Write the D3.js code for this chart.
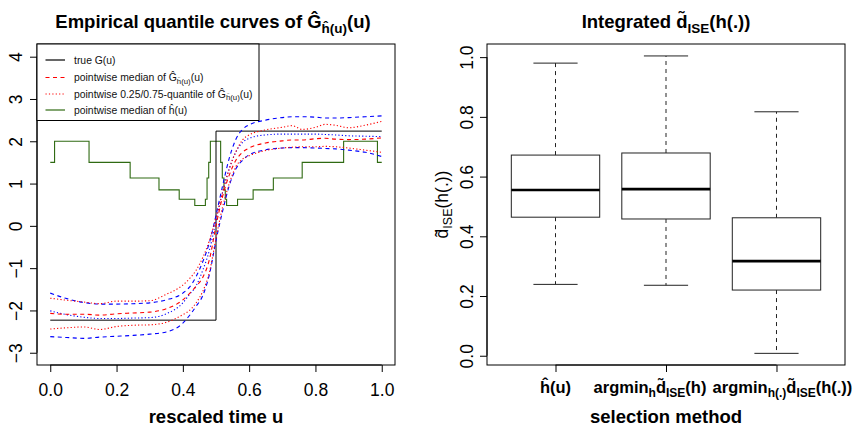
<!DOCTYPE html>
<html>
<head>
<meta charset="utf-8">
<script src="https://cdn.jsdelivr.net/npm/d3@7"></script>
<style>
  body { margin: 0; background: #fff; }
  svg { font-family: "Liberation Sans", Arial, Helvetica, sans-serif; }
</style>
</head>
<body>
<div class="chart"></div>
<script>
// rooster van u-waarden voor de kwantielcurves
var uGrid = [0, 0.05, 0.1, 0.15, 0.2, 0.25, 0.3, 0.35, 0.4, 0.42, 0.44, 0.46, 0.48, 0.5, 0.52, 0.54, 0.56, 0.58, 0.6, 0.65, 0.7, 0.73, 0.76, 0.8, 0.83, 0.86, 0.9, 0.95, 1.0];

// blauwe curves (niet in de legende)
var blueDashHi = [-1.59, -1.72, -1.81, -1.85, -1.85, -1.84, -1.82, -1.75, -1.59, -1.45, -1.2, -0.85, -0.4, 0.25, 0.95, 1.6, 2.05, 2.28, 2.39, 2.5, 2.56, 2.58, 2.58, 2.57, 2.55, 2.55, 2.56, 2.58, 2.6];
var blueDotHi = [-2.01, -2.1, -2.16, -2.19, -2.19, -2.18, -2.17, -2.08, -1.82, -1.62, -1.42, -1.05, -0.58, 0.12, 0.8, 1.35, 1.75, 1.97, 2.07, 2.15, 2.17, 2.17, 2.17, 2.17, 2.16, 2.15, 2.13, 2.12, 2.11];
var blueDashLo = [-2.62, -2.64, -2.66, -2.63, -2.61, -2.59, -2.56, -2.51, -2.3, -2.12, -1.9, -1.65, -1.15, -0.35, 0.35, 0.95, 1.35, 1.55, 1.68, 1.8, 1.84, 1.85, 1.85, 1.84, 1.83, 1.82, 1.79, 1.74, 1.64];

// rode curves: mediaan en 0.25/0.75-kwantielen
var redMedian = [-2.07, -2.09, -2.09, -2.11, -2.08, -2.06, -2.04, -1.96, -1.75, -1.6, -1.43, -1.22, -0.8, 0.0, 0.7, 1.2, 1.55, 1.74, 1.84, 1.96, 2.01, 2.03, 2.03, 2.06, 2.07, 2.05, 2.04, 2.05, 2.08];
var redDotHi = [-1.71, -1.76, -1.8, -1.84, -1.78, -1.78, -1.77, -1.62, -1.4, -1.25, -1.05, -0.75, -0.35, 0.2, 0.8, 1.35, 1.75, 2.03, 2.15, 2.27, 2.33, 2.37, 2.28, 2.33, 2.4, 2.38, 2.32, 2.38, 2.47];
var redDotLo = [-2.44, -2.41, -2.39, -2.45, -2.38, -2.35, -2.34, -2.28, -2.1, -2.0, -1.82, -1.55, -1.1, -0.3, 0.45, 1.0, 1.4, 1.58, 1.66, 1.78, 1.84, 1.86, 1.87, 1.87, 1.88, 1.87, 1.84, 1.79, 1.74];

// ware functie G(u)
var trueU = [0, 0.5, 0.5, 1.0];
var trueG = [-2.23, -2.23, 2.24, 2.24];

// mediaan van de gekozen bandbreedte h(u) (trapfunctie)
var hU = [0, 0.013, 0.117, 0.241, 0.328, 0.389, 0.436, 0.468, 0.473, 0.478, 0.483, 0.514, 0.519, 0.524, 0.528, 0.532, 0.565, 0.612, 0.673, 0.76, 0.885, 0.987, 1.0];
var hV = [1.5, 2.0, 1.5, 1.13, 0.85, 0.63, 0.48, 0.63, 1.13, 1.5, 2.0, 1.5, 1.13, 0.85, 0.63, 0.48, 0.63, 0.85, 1.13, 1.5, 2.0, 1.5, 1.5];

var xTicksL = [0, 0.2, 0.4, 0.6, 0.8, 1.0];
var yTicksL = [-3, -2, -1, 0, 1, 2, 3, 4];

// boxplots rechts
var methods = [1, 2, 3];
var whiskLo = [0.239, 0.236, 0.008];
var q1 = [0.464, 0.458, 0.22];
var medians = [0.555, 0.558, 0.317];
var q3 = [0.672, 0.679, 0.462];
var whiskHi = [0.98, 1.004, 0.817];
var yTicksR = [0, 0.2, 0.4, 0.6, 0.8, 1.0];

var width = 854, height = 429;
var svg = d3.select(".chart").append("svg")
  .attr("width", width)
  .attr("height", height);

var fontTick = 17.5;

// ---------- linker paneel ----------
var xL = d3.scaleLinear().domain([-0.04, 1.04]).range([37, 395]);
var yL = d3.scaleLinear().domain([-3.29, 4.3]).range([365, 44]);

var left = svg.append("g");

var line = d3.line()
  .x(d => xL(d[0]))
  .y(d => yL(d[1]))
  .curve(d3.curveMonotoneX);

function pairs(us, vs) {
  return us.map((u, i) => [u, vs[i]]);
}

// groene trapfunctie
left.append("path")
  .datum(pairs(hU, hV))
  .attr("d", d3.line().x(d => xL(d[0])).y(d => yL(d[1])).curve(d3.curveStepAfter))
  .attr("fill", "none")
  .attr("stroke", "#2f6a12")
  .attr("stroke-width", 1.1);

// ware G(u)
left.append("path")
  .datum(pairs(trueU, trueG))
  .attr("d", d3.line().x(d => xL(d[0])).y(d => yL(d[1])))
  .attr("fill", "none")
  .attr("stroke", "#000")
  .attr("stroke-width", 1);

var curves = [
  { v: blueDashHi, color: "#0000ff", dash: "4,3.5" },
  { v: blueDashLo, color: "#0000ff", dash: "4,3.5" },
  { v: blueDotHi, color: "#0000ff", dash: "1.2,2.2" },
  { v: redDotHi, color: "#ff0000", dash: "1.2,2.2" },
  { v: redDotLo, color: "#ff0000", dash: "1.2,2.2" },
  { v: redMedian, color: "#ff0000", dash: "4,3.5" }
];

left.selectAll("path.curve")
  .data(curves)
  .enter()
  .append("path")
  .attr("class", "curve")
  .attr("d", d => line(pairs(uGrid, d.v)))
  .attr("fill", "none")
  .attr("stroke", d => d.color)
  .attr("stroke-width", 1.1)
  .attr("stroke-dasharray", d => d.dash);

// kader
left.append("rect")
  .attr("x", 37).attr("y", 44)
  .attr("width", 358).attr("height", 321)
  .attr("fill", "none")
  .attr("stroke", "#000");

// x-as
var xAxisL = left.append("g")
  .attr("transform", "translate(0,365)")
  .call(d3.axisBottom(xL).tickValues(xTicksL).tickFormat(d3.format(".1f")).tickSizeInner(7).tickSizeOuter(0).tickPadding(4));
xAxisL.select(".domain").attr("d", "M" + xL(0) + ",0H" + xL(1));
xAxisL.selectAll("text").attr("font-size", fontTick).attr("font-family", null).attr("fill", "#000").attr("dy", null).attr("y", 31);

// y-as
var yAxisL = left.append("g")
  .attr("transform", "translate(37,0)")
  .call(d3.axisLeft(yL).tickValues(yTicksL).tickSizeInner(7).tickSizeOuter(0));
yAxisL.select(".domain").attr("d", "M0," + yL(-3) + "V" + yL(4));
yAxisL.selectAll("text")
  .text(d => d < 0 ? "\u2212" + Math.abs(d) : d)
  .attr("font-size", fontTick).attr("font-family", null).attr("fill", "#000")
  .attr("x", null).attr("dy", null)
  .attr("text-anchor", "middle")
  .attr("transform", "translate(-15,0) rotate(-90)");

// titel
var titleL = left.append("text")
  .attr("x", 213).attr("y", 28)
  .attr("text-anchor", "middle")
  .attr("font-size", 18.5)
  .attr("font-weight", "bold");
titleL.append("tspan").text("Empirical quantile curves of \u011C");
titleL.append("tspan").attr("font-size", 13.5).attr("dy", 5).text("\u0125(u)");
titleL.append("tspan").attr("dy", -5).text("(u)");

left.append("text")
  .attr("x", 216).attr("y", 423)
  .attr("text-anchor", "middle")
  .attr("font-size", 18.5)
  .attr("font-weight", "bold")
  .text("rescaled time u");

// legende
var legend = left.append("g");
legend.append("rect")
  .attr("x", 37).attr("y", 44)
  .attr("width", 222).attr("height", 76.5)
  .attr("fill", "#fff")
  .attr("stroke", "#000");

var legendItems = [
  { y: 60, color: "#000000", dash: "none", parts: [["true G(u)", 0]] },
  { y: 77.5, color: "#ff0000", dash: "4,3.5", parts: [["pointwise median of \u011C", 0], ["\u0125(u)", 1], ["(u)", 0]] },
  { y: 94, color: "#ff0000", dash: "1.2,2.2", parts: [["pointwise 0.25/0.75-quantile of \u011C", 0], ["\u0125(u)", 1], ["(u)", 0]] },
  { y: 110, color: "#2f6a12", dash: "none", parts: [["pointwise median of \u0125(u)", 0]] }
];

legendItems.forEach(function (item) {
  legend.append("line")
    .attr("x1", 45.5).attr("x2", 65)
    .attr("y1", item.y).attr("y2", item.y)
    .style("stroke", item.color)
    .style("stroke-width", 1.2)
    .style("stroke-dasharray", item.dash);
  var t = legend.append("text")
    .attr("x", 74).attr("y", item.y + 3.5)
    .attr("font-size", 10.4)
    .attr("fill", "#111");
  var shift = 0;
  item.parts.forEach(function (p) {
    var dy = p[1] ? 2.5 : -shift;
    t.append("tspan")
      .attr("font-size", p[1] ? 7.8 : 10.4)
      .attr("dy", dy)
      .text(p[0]);
    shift = p[1] ? 2.5 : 0;
  });
});

// ---------- rechter paneel ----------
var xR = d3.scaleLinear().domain([0.38, 3.62]).range([487, 845]);
var yR = d3.scaleLinear().domain([-0.031, 1.044]).range([365, 44]);
var right = svg.append("g");

var boxData = methods.map((m, i) => ({
  m: m, lo: whiskLo[i], q1: q1[i], med: medians[i], q3: q3[i], hi: whiskHi[i]
}));
var boxW = 0.4, capW = 0.2;

var boxes = right.selectAll("g.box")
  .data(boxData)
  .enter()
  .append("g")
  .attr("class", "box");

// snorharen
boxes.append("line")
  .attr("x1", d => xR(d.m)).attr("x2", d => xR(d.m))
  .attr("y1", d => yR(d.q3)).attr("y2", d => yR(d.hi))
  .attr("stroke", "#222").attr("stroke-dasharray", "4,4");
boxes.append("line")
  .attr("x1", d => xR(d.m)).attr("x2", d => xR(d.m))
  .attr("y1", d => yR(d.q1)).attr("y2", d => yR(d.lo))
  .attr("stroke", "#222").attr("stroke-dasharray", "4,4");
boxes.append("line")
  .attr("x1", d => xR(d.m - capW)).attr("x2", d => xR(d.m + capW))
  .attr("y1", d => yR(d.hi)).attr("y2", d => yR(d.hi))
  .attr("stroke", "#222");
boxes.append("line")
  .attr("x1", d => xR(d.m - capW)).attr("x2", d => xR(d.m + capW))
  .attr("y1", d => yR(d.lo)).attr("y2", d => yR(d.lo))
  .attr("stroke", "#222");
boxes.append("rect")
  .attr("x", d => xR(d.m - boxW))
  .attr("y", d => yR(d.q3))
  .attr("width", d => xR(d.m + boxW) - xR(d.m - boxW))
  .attr("height", d => yR(d.q1) - yR(d.q3))
  .attr("fill", "#fff")
  .attr("stroke", "#222");
boxes.append("line")
  .attr("x1", d => xR(d.m - boxW)).attr("x2", d => xR(d.m + boxW))
  .attr("y1", d => yR(d.med)).attr("y2", d => yR(d.med))
  .attr("stroke", "#000").attr("stroke-width", 2.6);

right.append("rect")
  .attr("x", 487).attr("y", 44)
  .attr("width", 358).attr("height", 321)
  .attr("fill", "none")
  .attr("stroke", "#000");

var xAxisR = right.append("g")
  .attr("transform", "translate(0,365)")
  .call(d3.axisBottom(xR).tickValues(methods).tickFormat("").tickSizeInner(7).tickSizeOuter(0));
xAxisR.select(".domain").attr("d", "M" + xR(1) + ",0H" + xR(3));

var yAxisR = right.append("g")
  .attr("transform", "translate(487,0)")
  .call(d3.axisLeft(yR).tickValues(yTicksR).tickFormat(d3.format(".1f")).tickSizeInner(7).tickSizeOuter(0));
yAxisR.select(".domain").attr("d", "M0," + yR(0) + "V" + yR(1));
yAxisR.selectAll("text")
  .attr("font-size", fontTick).attr("font-family", null).attr("fill", "#000")
  .attr("x", null).attr("dy", null)
  .attr("text-anchor", "middle")
  .attr("transform", "translate(-14,0) rotate(-90)");

// labels van de methodes (R zet ze iets scheef t.o.v. de tick)
var methodLabels = [
  [["\u0125(u)", 0]],
  [["argmin", 0], ["h", 1], ["d\u0303", 0], ["ISE", 1], ["(h)", 0]],
  [["argmin", 0], ["h(.)", 1], ["d\u0303", 0], ["ISE", 1], ["(h(.))", 0]]
];
var labelShift = [0, -16, 6];
methodLabels.forEach(function (parts, i) {
  var t = right.append("text")
    .attr("x", xR(methods[i]) + labelShift[i]).attr("y", 393)
    .attr("text-anchor", "middle")
    .attr("font-size", 16.5)
    .attr("font-weight", "bold");
  var shift = 0;
  parts.forEach(function (p) {
    t.append("tspan")
      .attr("font-size", p[1] ? 12 : 16.5)
      .attr("dy", p[1] ? 4 - shift : -shift)
      .text(p[0]);
    shift = p[1] ? 4 : 0;
  });
});

right.append("text")
  .attr("x", 666).attr("y", 423)
  .attr("text-anchor", "middle")
  .attr("font-size", 18.5)
  .attr("font-weight", "bold")
  .text("selection method");

var titleR = right.append("text")
  .attr("x", 666).attr("y", 28)
  .attr("text-anchor", "middle")
  .attr("font-size", 18.5)
  .attr("font-weight", "bold");
titleR.append("tspan").text("Integrated d\u0303");
titleR.append("tspan").attr("font-size", 13.5).attr("dy", 5).text("ISE");
titleR.append("tspan").attr("dy", -5).text("(h(.))");

var ylabR = right.append("text")
  .attr("transform", "translate(448," + ((44 + 365) / 2) + ") rotate(-90)")
  .attr("text-anchor", "middle")
  .attr("font-size", 17.5);
ylabR.append("tspan").text("d\u0303");
ylabR.append("tspan").attr("font-size", 12.5).attr("dy", 4).text("ISE");
ylabR.append("tspan").attr("dy", -4).text("(h(.))");
</script>
</body>
</html>
